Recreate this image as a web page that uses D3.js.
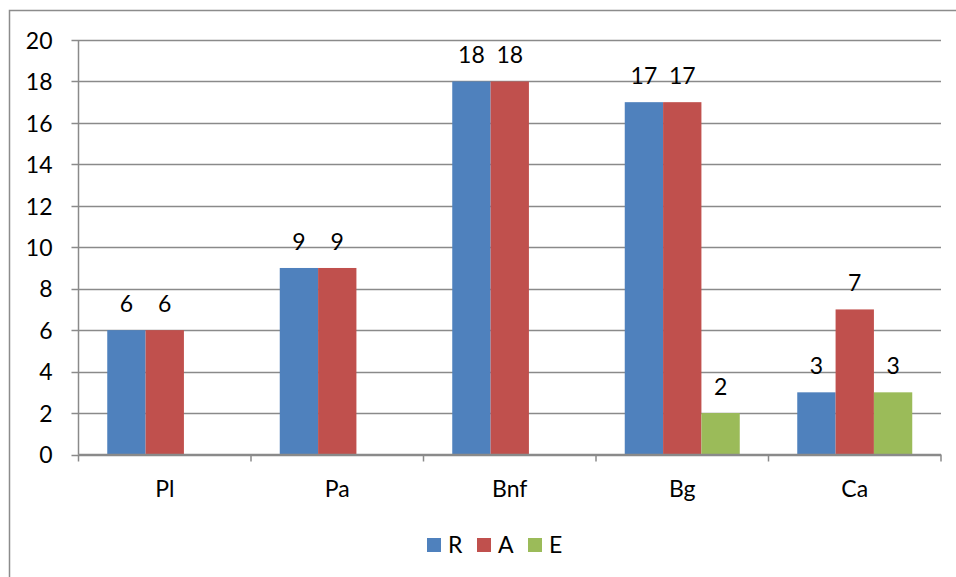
<!DOCTYPE html>
<html>
<head>
<meta charset="utf-8">
<script src="https://cdn.jsdelivr.net/npm/d3@7/dist/d3.min.js"></script>
<style>
  html, body { margin: 0; padding: 0; background: #fff; }
  svg { display: block; }
  text { font-family: Lato, "Open Sans", "Liberation Sans", sans-serif; fill: #000; }
</style>
</head>
<body>
<svg id="chart" width="956" height="577"></svg>
<script>
// Chart data
const categories = ["Pl", "Pa", "Bnf", "Bg", "Ca"];
const seriesNames = ["R", "A", "E"];
const valuesR = [6, 9, 18, 17, 3];
const valuesA = [6, 9, 18, 17, 7];
const valuesE = [null, null, null, 2, 3];
const yTicks = [0, 2, 4, 6, 8, 10, 12, 14, 16, 18, 20];
const colors = ["#4F81BD", "#C0504D", "#9BBB59"];

const series = [valuesR, valuesA, valuesE];
const fontSize = "23px";

const svg = d3.select("#chart");

// outer chart frame
svg.append("rect")
  .attr("x", 9.5).attr("y", 10.5)
  .attr("width", 960).attr("height", 580)
  .attr("fill", "none").attr("stroke", "#8c8c8c").attr("stroke-width", 1.5);

const plotLeft = 78.5, plotRight = 941, plotTop = 40, plotBottom = 454.5;

const x = d3.scaleBand().domain(categories).range([plotLeft, plotRight]).paddingInner(0).paddingOuter(0);
const y = d3.scaleLinear().domain([0, 20]).range([plotBottom, plotTop]);

// bar geometry: three bars per group with a 150% gap
const groupW = x.bandwidth();
const barW = groupW / 4.5;
const xs = d3.scaleBand().domain(seriesNames).range([0, barW * 3]).padding(0);

// horizontal gridlines
svg.append("g").selectAll("line").data(yTicks).join("line")
  .attr("x1", plotLeft - 7).attr("x2", plotRight)
  .attr("y1", d => Math.round(y(d)) + 0.5).attr("y2", d => Math.round(y(d)) + 0.5)
  .attr("stroke", "#8a8a8a").attr("stroke-width", 1.5);

// y axis
const yAxis = d3.axisLeft(y).tickValues(yTicks).tickSize(0).tickPadding(0);
const yg = svg.append("g").attr("transform", `translate(${plotLeft},0)`).call(yAxis);
yg.select(".domain").remove();
yg.selectAll("text").attr("x", -26).attr("dy", "0.36em")
  .style("font-size", fontSize).style("font-family", "Lato, 'Open Sans', sans-serif").attr("fill", "#000");

svg.append("line")
  .attr("x1", plotLeft).attr("x2", plotLeft).attr("y1", plotTop).attr("y2", plotBottom)
  .attr("stroke", "#8a8a8a").attr("stroke-width", 1.5);

// bars
categories.forEach((c, i) => {
  const gx = x(c) + (groupW - barW * 3) / 2;
  series.forEach((vals, s) => {
    const v = vals[i];
    if (v == null) return;
    svg.append("rect")
      .attr("x", gx + xs(seriesNames[s]))
      .attr("y", y(v))
      .attr("width", barW)
      .attr("height", y(0) - y(v))
      .attr("fill", colors[s]);
    svg.append("text")
      .attr("x", gx + xs(seriesNames[s]) + barW / 2)
      .attr("y", y(v) - 18)
      .attr("text-anchor", "middle")
      .style("font-size", fontSize)
      .text(v);
  });
});

// x axis line and ticks at category boundaries
svg.append("line")
  .attr("x1", plotLeft).attr("x2", plotRight).attr("y1", plotBottom).attr("y2", plotBottom)
  .attr("stroke", "#8a8a8a").attr("stroke-width", 1.5);
const bounds = categories.map(c => x(c)).concat([plotRight]);
svg.append("g").selectAll("line").data(bounds).join("line")
  .attr("x1", d => d).attr("x2", d => d)
  .attr("y1", plotBottom).attr("y2", plotBottom + 7)
  .attr("stroke", "#8a8a8a").attr("stroke-width", 1.5);

svg.append("g").selectAll("text").data(categories).join("text")
  .attr("x", d => x(d) + groupW / 2)
  .attr("y", 497)
  .attr("text-anchor", "middle")
  .style("font-size", fontSize)
  .text(d => d);

// legend
const legendX = [427, 477, 528];
seriesNames.forEach((n, i) => {
  svg.append("rect")
    .attr("x", legendX[i]).attr("y", 538)
    .attr("width", 14).attr("height", 14)
    .attr("fill", colors[i]);
  svg.append("text")
    .attr("x", legendX[i] + 21).attr("y", 553)
    .style("font-size", fontSize)
    .text(n);
});
</script>
</body>
</html>
